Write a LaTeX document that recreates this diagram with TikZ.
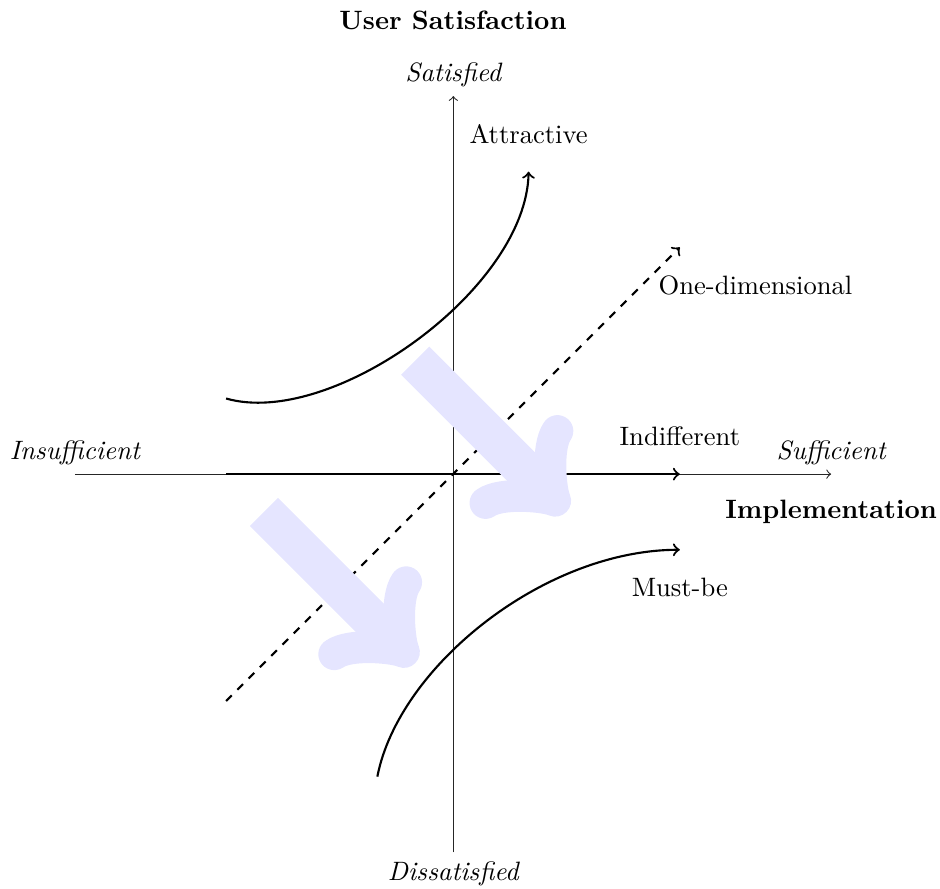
\documentclass[tikz,border=0pt]{standalone}
\begin{document}
\begin{tikzpicture}[
  axis/.style={->, black!85},
  curve/.style={->, thick},
  bigarrow/.style={->, line width=15pt, blue!10},
  lbl/.style={font=\itshape},
  ttl/.style={font=\bfseries},
]
\useasboundingbox (-5.99,-5.48) rectangle (6.44,6.27);
\coordinate (W) at (-5,0);
\coordinate (E) at (5,0);
\coordinate (S) at (0.005,-5);
\coordinate (N) at (0.005,5);
\draw[axis] (W) -- (E);
\draw[axis] (S) -- (N);
\node[lbl, above] (ins) at (W) {Insufficient};
\node[lbl, above] (suf) at (E) {Sufficient};
\node[lbl, above] (sat) at (N) {Satisfied};
\node[lbl, below] (dis) at (S) {Dissatisfied};
\node[ttl] (us) at (0,6) {User Satisfaction};
\node[ttl] (impl) at (5,-0.5) {Implementation};

% Indifferent
\coordinate (i0) at (-3,0);
\coordinate (i1) at (3,0);
\draw[curve] (i0) -- (i1);
\node (indiff) at (3,0.5) {Indifferent};

% One-dimensional
\coordinate (o0) at (-3,-3);
\coordinate (o1) at (3,3);
\draw[curve, dashed] (o0) -- (o1);
\node (oned) at (4,2.5) {One-dimensional};

% Attractive
\coordinate (a0) at (-3,1);
\coordinate (a1) at (1,4);
\draw[curve] (a0) .. controls (-1.6,0.6) and (0.97,2.45) .. (a1);
\node (attr) at (1,4.5) {Attractive};

% Must-be
\coordinate (m0) at (-1,-4);
\coordinate (m1) at (3,-1);
\draw[curve] (m0) .. controls (-0.72,-2.55) and (1.2,-1) .. (m1);
\node (must) at (3,-1.5) {Must-be};

% big arrows
\coordinate (b1s) at (-0.5,1.5);
\coordinate (b1e) at (1.5,-0.5);
\coordinate (b2s) at (-2.5,-0.5);
\coordinate (b2e) at (-0.5,-2.5);
\draw[bigarrow] (b1s) -- (b1e);
\draw[bigarrow] (b2s) -- (b2e);
\end{tikzpicture}
\end{document}
